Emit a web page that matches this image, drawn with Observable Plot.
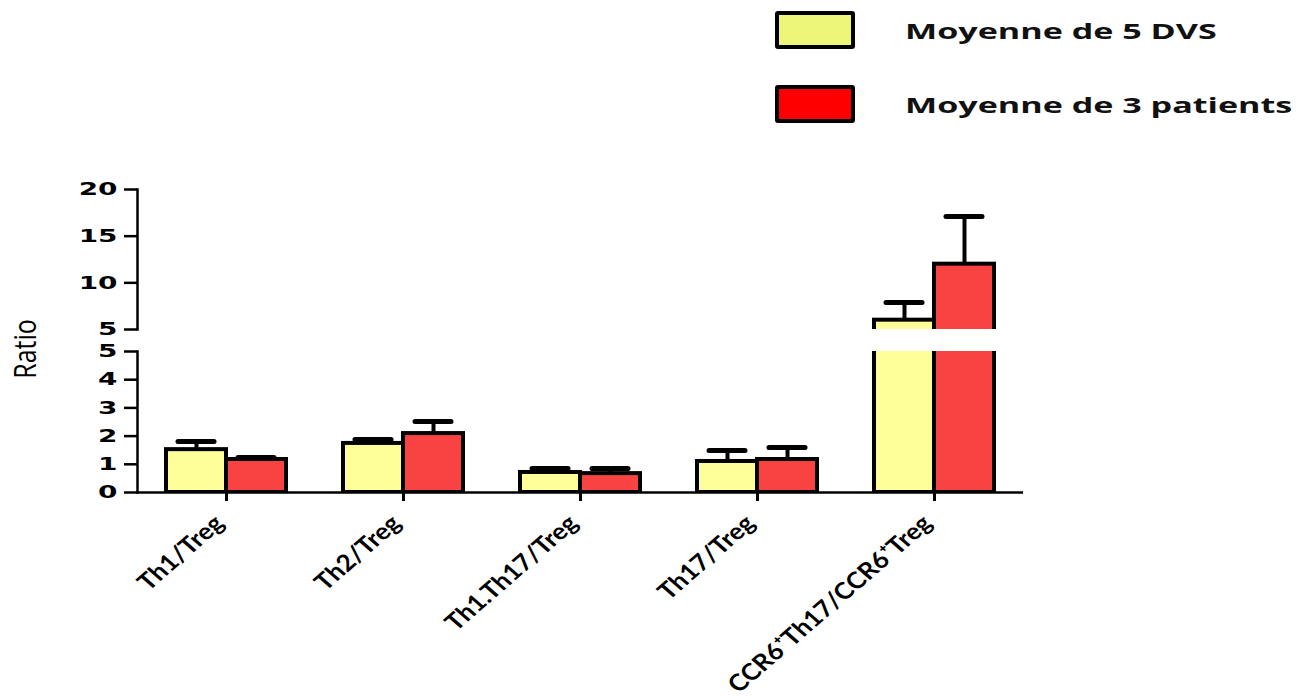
<!DOCTYPE html>
<html><head><meta charset="utf-8">
<script src="https://cdn.jsdelivr.net/npm/d3@7"></script>
<script src="https://cdn.jsdelivr.net/npm/@observablehq/plot@0.6"></script>
<style>
body{margin:0;background:#fff;}
#wrap{position:relative;width:1306px;height:696px;overflow:hidden;font-family:"Open Sans",sans-serif;color:#000;}
#upper,#lower{position:absolute;left:0;}
#upper{top:179px;}
#lower{top:341px;}
.leg{position:absolute;left:775px;display:flex;align-items:center;}
.sw{width:72px;height:30px;border:4px solid #000;border-radius:3px;}
.lt{margin-left:50px;font-weight:700;font-size:22px;transform:scaleX(1.55);transform-origin:left center;white-space:nowrap;color:#111;}
#ylab{position:absolute;left:23px;top:349px;font-size:25px;transform:translate(-50%,-50%) scale(1.25,1) rotate(-90deg);white-space:nowrap;}
</style></head>
<body><div id="wrap">
<div class="leg" id="leg0" style="top:11px"></div>
<div class="leg" id="leg1" style="top:85px"></div>
<div id="ylab">Ratio</div>
<div id="upper"></div>
<div id="lower"></div>
</div>
<script>
const categories = ["Th1/Treg", "Th2/Treg", "Th1.Th17/Treg", "Th17/Treg", "CCR6\u207ATh17/CCR6\u207ATreg"];
const seriesNames = ["Moyenne de 5 DVS", "Moyenne de 3 patients"];
const dvsMean = [1.52, 1.74, 0.71, 1.10, 6.0];
const dvsSem  = [0.29, 0.14, 0.14, 0.39, 1.9];
const patMean = [1.17, 2.09, 0.67, 1.17, 12.0];
const patSem  = [0.07, 0.43, 0.18, 0.43, 5.1];
const barColors = ["#ffff99", "#f94242"];
const legendColors = ["#eef67a", "#ff0000"];
const upperTicks = [5, 10, 15, 20];
const lowerTicks = [0, 1, 2, 3, 4, 5];

const dvsRows = categories.map((c, i) => ({cat: c, mean: dvsMean[i], top: dvsMean[i] + dvsSem[i]}));
const patRows = categories.map((c, i) => ({cat: c, mean: patMean[i], top: patMean[i] + patSem[i]}));

// legend
[0, 1].forEach(k => {
  const el = document.getElementById("leg" + k);
  const sw = document.createElement("div"); sw.className = "sw"; sw.style.background = legendColors[k];
  const t = document.createElement("div"); t.className = "lt"; t.textContent = seriesNames[k];
  el.append(sw, t);
});

const W = 1306, ML = 137, MR = 283;
const half = 60, capIn = 12;
const xOpts = {type: "band", domain: categories, paddingInner: 0.32, paddingOuter: 0.16};

function dataMarks() {
  return [
    Plot.barY(dvsRows, {x: "cat", y1: 0, y2: "mean", fill: barColors[0], stroke: "#000", strokeWidth: 4, insetRight: half, clip: true}),
    Plot.barY(patRows, {x: "cat", y1: 0, y2: "mean", fill: barColors[1], stroke: "#000", strokeWidth: 4, insetLeft: half, clip: true}),
    Plot.ruleX(dvsRows, {x: "cat", y1: "mean", y2: "top", dx: -half / 2, stroke: "#000", strokeWidth: 4, clip: true}),
    Plot.ruleX(patRows, {x: "cat", y1: "mean", y2: "top", dx: half / 2, stroke: "#000", strokeWidth: 4, clip: true}),
    Plot.tickY(dvsRows, {x: "cat", y: "top", insetLeft: capIn, insetRight: half + capIn, stroke: "#000", strokeWidth: 5, strokeLinecap: "round", clip: true}),
    Plot.tickY(patRows, {x: "cat", y: "top", insetLeft: half + capIn, insetRight: capIn, stroke: "#000", strokeWidth: 5, strokeLinecap: "round", clip: true})
  ];
}

const yAxisStyle = {tickSize: 13, tickPadding: 7, label: null, strokeWidth: 2.5, fontSize: 18, fontFamily: "DejaVu Sans", fontWeight: "bold", tickFormat: d3.format("d")};

const upper = Plot.plot({
  width: W, height: 162, marginLeft: ML, marginRight: MR, marginTop: 10, marginBottom: 12,
  x: {...xOpts, axis: null},
  y: {domain: [5, 20]},
  marks: [
    Plot.frame({anchor: "left", strokeWidth: 2.5}),
    Plot.axisY({...yAxisStyle, ticks: upperTicks}),
    ...dataMarks()
  ]
});

const lower = Plot.plot({
  width: W, height: 355, marginLeft: ML, marginRight: MR, marginTop: 10, marginBottom: 204,
  x: xOpts,
  y: {domain: [0, 5]},
  marks: [
    Plot.frame({anchor: "left", strokeWidth: 2.5}),
    Plot.axisY({...yAxisStyle, ticks: lowerTicks}),
    Plot.axisX({tickRotate: -45, tickSize: 9, tickPadding: 14, label: null, strokeWidth: 3, fontSize: 23, fontFamily: "Lato", fontWeight: "bold", textStroke: null}),
    ...dataMarks(),
    Plot.ruleY([0], {strokeWidth: 2.5})
  ]
});

function stretch(svg) {
  svg.querySelectorAll('g[aria-label="y-axis tick label"] text').forEach(t => {
    t.setAttribute("transform", (t.getAttribute("transform") || "") + " scale(1.55,1)");
  });
  svg.querySelectorAll('g[aria-label="x-axis tick label"] text').forEach(t => {
    const tr = t.getAttribute("transform") || "";
    t.setAttribute("transform", tr.replace(/translate\(([-\d.e]+),([-\d.e]+)\)/, (m, a, b) => `translate(${+a - 7},${+b + 4})`).replace("rotate(", "scale(1.15,1) rotate("));
  });
}
stretch(upper); stretch(lower);
document.getElementById("upper").append(upper);
document.getElementById("lower").append(lower);
</script>
</body></html>
